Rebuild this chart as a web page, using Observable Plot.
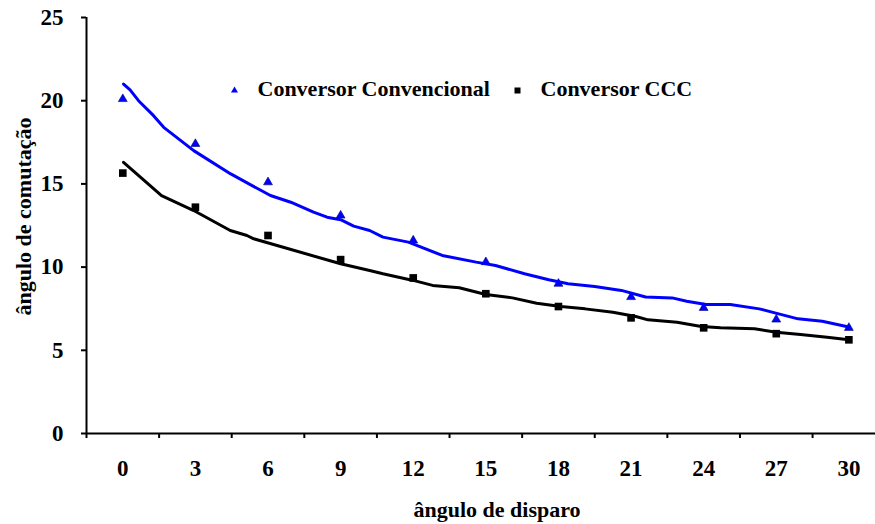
<!DOCTYPE html>
<html>
<head>
<meta charset="utf-8">
<script src="https://cdn.jsdelivr.net/npm/d3@7"></script>
<script src="https://cdn.jsdelivr.net/npm/@observablehq/plot@0.6"></script>
<style>
  html, body { margin: 0; padding: 0; background: #fff; }
  #chart { width: 875px; height: 524px; }
</style>
</head>
<body>
<div id="chart"></div>
<script>
// Categories (ângulo de disparo) and tick labels
const angles = [0, 3, 6, 9, 12, 15, 18, 21, 24, 27, 30];
const yTicks = [0, 5, 10, 15, 20, 25];

// Measured points
const convencional = [20.1, 17.4, 15.1, 13.1, 11.6, 10.3, 9.0, 8.2, 7.55, 6.85, 6.35];
const ccc = [15.65, 13.6, 11.9, 10.45, 9.35, 8.4, 7.63, 6.95, 6.35, 6.0, 5.63];

// Trend lines
const trendConvX = [0.03, 0.3, 0.65, 1.27, 1.69, 2.93, 4.46, 6.1, 6.94, 7.88, 8.44, 9.0, 9.54, 10.2, 10.75, 11.8, 13.2, 14.6, 15.4, 16.6, 17.6, 18.4, 19.5, 20.6, 21.6, 22.7, 23.3, 24.1, 25.1, 26.3, 27.1, 27.9, 28.9, 29.9];
const trendConvY = [21.0, 20.65, 20.0, 19.1, 18.4, 17.0, 15.6, 14.3, 13.9, 13.3, 13.0, 12.85, 12.46, 12.2, 11.8, 11.5, 10.7, 10.3, 10.1, 9.6, 9.24, 9.0, 8.83, 8.6, 8.2, 8.15, 7.95, 7.75, 7.75, 7.49, 7.19, 6.89, 6.75, 6.43];
const trendCccX = [0.03, 1.6, 2.93, 4.44, 5.13, 5.41, 9.0, 10.2, 10.75, 12.0, 12.8, 13.9, 15.0, 16.1, 17.1, 18.1, 19.1, 20.25, 21.2, 21.7, 22.9, 23.9, 24.7, 26.1, 27.0, 28.0, 29.1, 30.0];
const trendCccY = [16.3, 14.3, 13.4, 12.2, 11.9, 11.7, 10.2, 9.8, 9.6, 9.2, 8.9, 8.76, 8.35, 8.15, 7.83, 7.63, 7.49, 7.29, 7.03, 6.83, 6.69, 6.43, 6.35, 6.29, 6.09, 5.95, 5.79, 5.63];

const seriesNames = ["Conversor Convencional", "Conversor CCC"];
const colors = ["#0000ff", "#000000"];

const points = angles.flatMap((a, i) => [
  {x: a, y: convencional[i], s: seriesNames[0]},
  {x: a, y: ccc[i], s: seriesNames[1]}
]);
const trendConv = trendConvX.map((x, i) => ({x, y: trendConvY[i]}));
const trendCcc = trendCccX.map((x, i) => ({x, y: trendCccY[i]}));

const step = angles[1] - angles[0];
const boundaries = angles.map(a => a - step / 2);
const xDomain = [angles[0] - step / 2, 31.1];

const font = "'Liberation Serif', 'Times New Roman', serif";

const chart = Plot.plot({
  width: 875,
  height: 524,
  marginLeft: 86,
  marginRight: 0,
  marginTop: 17,
  marginBottom: 91,
  style: {fontFamily: font, fontWeight: "bold", fontSize: "23px", color: "#000", background: "#fff"},
  x: {domain: xDomain, axis: null},
  y: {domain: [0, 25], axis: null},
  marks: [
    // y axis
    Plot.axisY({ticks: yTicks, tickSize: 5, tickPadding: 18, strokeWidth: 2, fontSize: 23, fontWeight: "bold", label: null}),
    // x axis ticks between categories
    Plot.axisX({ticks: boundaries, tickSize: 5, strokeWidth: 2, text: null, label: null}),
    Plot.axisX({ticks: angles, tickSize: 0, tickPadding: 26, fontSize: 23, fontWeight: "bold", label: null}),
    Plot.ruleX([xDomain[0]], {stroke: "#000", strokeWidth: 2}),
    Plot.ruleY([0], {stroke: "#000", strokeWidth: 2}),
    // axis titles
    Plot.text(["ângulo de comutação"], {frameAnchor: "left", dx: -63, dy: -9, rotate: -90, textAnchor: "middle", fontSize: 22, fontWeight: "bold", lineAnchor: "middle"}),
    Plot.text(["ângulo de disparo"], {frameAnchor: "bottom", dx: 16, dy: 76, textAnchor: "middle", fontSize: 22, fontWeight: "bold", lineAnchor: "middle"}),
    // points
    Plot.dot(points.filter(d => d.s === seriesNames[0]), {x: "x", y: "y", symbol: "triangle", r: 3.3, fill: colors[0], stroke: "#00007a", strokeWidth: 0.6}),
    Plot.dot(points.filter(d => d.s === seriesNames[1]), {x: "x", y: "y", symbol: "square", r: 4.3, fill: colors[1]}),
    // trend lines
    Plot.line(trendConv, {x: "x", y: "y", stroke: colors[0], strokeWidth: 3}),
    Plot.line(trendCcc, {x: "x", y: "y", stroke: colors[1], strokeWidth: 3}),
    // legend
    Plot.dot([seriesNames[0]], {frameAnchor: "top-left", dx: 148, dy: 73, symbol: "triangle", r: 2.6, fill: colors[0]}),
    Plot.text([seriesNames[0]], {frameAnchor: "top-left", dx: 171, dy: 71, textAnchor: "start", lineAnchor: "middle", fontSize: 22, fontWeight: "bold"}),
    Plot.dot([seriesNames[1]], {frameAnchor: "top-left", dx: 431, dy: 73, symbol: "square", r: 3.4, fill: colors[1]}),
    Plot.text([seriesNames[1]], {frameAnchor: "top-left", dx: 454, dy: 71, textAnchor: "start", lineAnchor: "middle", fontSize: 22, fontWeight: "bold"})
  ]
});
document.getElementById("chart").appendChild(chart);
</script>
</body>
</html>
